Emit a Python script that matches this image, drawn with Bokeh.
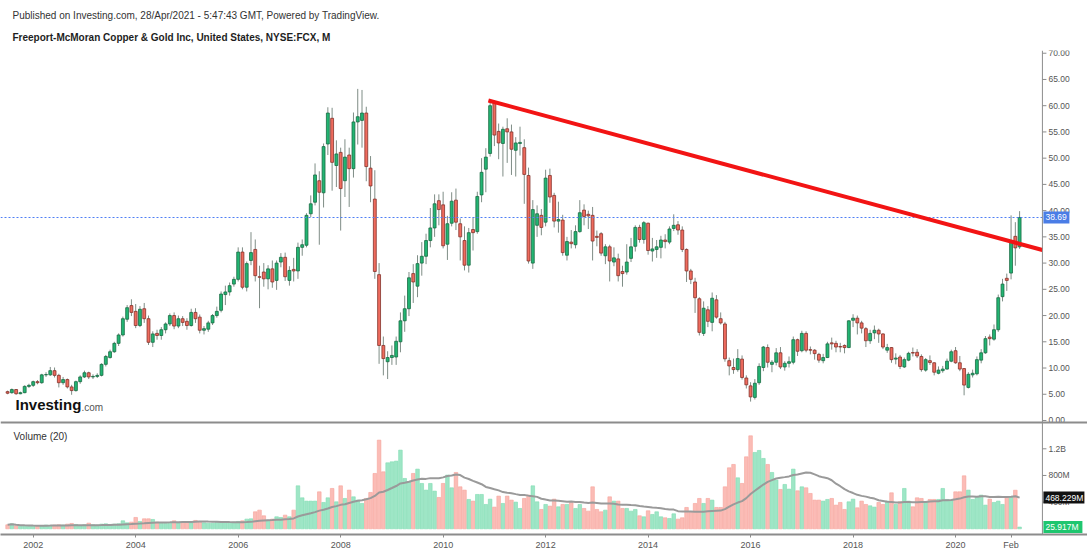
import pandas as pd
from bokeh.plotting import figure
from bokeh.models import Range1d, FixedTicker, Span, Label, Title, ColumnDataSource
from bokeh.core.properties import value
from bokeh.embed import file_html
from bokeh.resources import INLINE

# ---------------- data (monthly, FCX, from Jul 2001) ----------------
first_month = "2001-07"

opens = [
    5.5, 5.3, 5.9, 5.1, 5.3, 6.5,
    6.7, 7.4, 7.2, 8.7, 8.7, 9.5, 8.6, 7.2, 7.8, 6.4, 5.7, 7.4,
    8.3, 9.1, 8.3, 8.4, 8.6, 10.7, 12.0, 13.1, 14.7, 16.3, 19.3, 21.9,
    20.8, 18.1, 21.3, 19.4, 14.9, 16.6, 16.2, 17.3, 18.4, 20.0, 18.0, 19.4,
    18.9, 18.1, 20.6, 19.7, 17.2, 17.4, 18.6, 20.0, 21.0, 24.0, 24.5, 26.0,
    26.9, 32.1, 25.4, 30.5, 32.6, 27.4, 28.3, 27.0, 28.9, 26.7, 30.2, 31.1,
    26.7, 28.8, 28.5, 33.0, 33.4, 39.4, 41.6, 45.7, 43.4, 52.7, 57.6, 48.6,
    51.1, 45.7, 50.6, 48.0, 56.9, 57.2, 58.6, 48.1, 42.2, 27.8, 14.3, 11.2,
    12.0, 12.1, 15.0, 19.0, 21.3, 28.0, 25.6, 30.0, 31.3, 34.3, 36.7, 41.9,
    41.1, 33.6, 37.6, 42.0, 37.5, 34.3, 29.6, 36.4, 36.0, 43.0, 47.9, 50.9,
    60.7, 55.1, 52.8, 55.6, 55.0, 51.5, 52.8, 52.0, 46.7, 30.0, 37.2, 39.1,
    37.8, 46.7, 42.9, 38.0, 38.2, 31.5, 34.0, 33.5, 36.0, 40.1, 39.3, 39.1,
    35.1, 35.6, 31.4, 33.1, 30.2, 30.8, 28.4, 28.3, 30.9, 33.2, 36.8, 34.5,
    37.6, 32.3, 32.6, 33.0, 34.4, 34.0, 36.6, 37.3, 36.3, 32.6, 28.5, 26.4,
    23.2, 16.6, 21.1, 18.7, 23.0, 19.4, 18.4, 11.4, 10.1, 9.7, 11.7, 8.1,
    6.6, 4.4, 7.2, 10.1, 13.9, 10.7, 11.1, 12.9, 10.2, 10.9, 11.1, 15.4,
    13.3, 16.6, 13.5, 13.4, 12.6, 11.4, 12.0, 14.8, 14.7, 14.1, 14.3, 13.9,
    19.1, 19.5, 18.6, 17.5, 15.2, 16.7, 17.2, 16.5, 13.4, 13.9, 11.7, 12.1,
    10.2, 11.5, 12.95, 13.0, 12.2, 9.6, 11.4, 11.0, 9.0, 9.5, 9.8, 11.3,
    13.3, 11.0, 9.9, 6.3, 8.7, 8.9, 11.5, 12.9, 15.9, 15.5, 17.3, 23.6,
    27.1, 28.1, 35.1, 33.1,
]
highs = [
    5.7, 6.1, 6.0, 5.5, 6.7, 7.0,
    7.6, 7.7, 8.9, 9.2, 10.2, 10.1, 8.9, 8.3, 8.0, 6.8, 7.6, 8.6,
    9.5, 9.3, 8.8, 9.0, 10.9, 12.5, 13.5, 15.0, 16.6, 19.8, 22.0, 23.1,
    22.2, 21.8, 22.4, 20.0, 17.0, 17.3, 17.8, 18.7, 20.4, 20.6, 20.0, 19.9,
    19.5, 21.3, 21.4, 20.2, 18.0, 19.0, 20.3, 21.7, 24.6, 25.7, 26.3, 27.4,
    33.0, 33.0, 30.3, 35.9, 34.5, 29.5, 30.0, 29.6, 30.5, 30.5, 31.9, 32.0,
    29.4, 31.0, 33.9, 34.5, 39.5, 42.9, 49.0, 47.5, 52.8, 59.7, 59.6, 53.4,
    52.0, 53.6, 52.0, 58.7, 63.2, 63.0, 59.8, 50.4, 47.7, 30.0, 16.0, 13.2,
    14.3, 16.0, 20.6, 23.8, 28.3, 29.8, 31.5, 34.0, 35.6, 40.5, 43.1, 43.1,
    43.6, 39.0, 43.5, 44.2, 38.5, 37.0, 36.7, 38.7, 43.6, 50.0, 51.9, 60.9,
    61.0, 56.6, 56.0, 57.6, 56.4, 54.0, 56.0, 53.6, 48.2, 42.0, 41.0, 40.3,
    47.8, 48.0, 43.4, 41.7, 39.2, 35.0, 36.3, 37.2, 42.0, 41.2, 40.0, 40.7,
    36.2, 35.9, 33.6, 33.5, 33.0, 31.8, 29.5, 33.6, 34.8, 37.2, 37.3, 38.0,
    37.7, 34.8, 34.4, 35.2, 35.5, 37.0, 39.3, 38.0, 37.0, 32.8, 28.9, 27.2,
    23.5, 22.7, 21.8, 24.4, 23.9, 20.6, 18.8, 12.0, 11.8, 13.6, 12.4, 8.6,
    7.3, 7.9, 10.9, 14.2, 14.5, 11.5, 13.8, 14.0, 11.3, 12.2, 16.0, 15.6,
    17.1, 17.0, 14.1, 13.6, 12.9, 12.7, 15.0, 15.8, 15.2, 14.8, 14.5, 19.1,
    20.25, 20.0, 19.0, 17.8, 17.3, 18.1, 17.5, 16.6, 14.6, 14.0, 12.8, 12.5,
    12.0, 13.1, 13.9, 13.6, 12.6, 11.9, 12.4, 11.1, 10.3, 10.4, 11.8, 13.5,
    14.0, 12.3, 10.0, 9.2, 9.7, 12.2, 13.6, 16.1, 16.4, 18.3, 24.0, 27.0,
    28.0, 39.1, 37.8, 39.9,
]
lows = [
    5.0, 5.1, 4.9, 5.0, 5.2, 6.2,
    6.4, 6.9, 7.0, 8.3, 8.5, 8.2, 6.3, 6.8, 6.1, 4.9, 5.5, 7.0,
    8.1, 7.9, 7.9, 8.1, 8.4, 10.3, 11.8, 12.9, 14.2, 16.0, 18.8, 19.9,
    17.6, 17.8, 18.6, 14.4, 14.0, 15.4, 15.4, 16.6, 18.0, 17.4, 17.6, 18.0,
    17.3, 17.9, 18.6, 16.6, 16.4, 16.9, 18.2, 19.6, 20.6, 22.0, 23.8, 25.5,
    26.5, 25.0, 24.6, 29.6, 26.5, 21.4, 25.5, 25.0, 25.3, 24.9, 29.2, 26.6,
    25.7, 26.5, 27.0, 31.4, 33.0, 38.8, 41.0, 33.5, 40.6, 50.6, 43.8, 44.5,
    36.2, 42.6, 40.7, 46.3, 52.6, 52.0, 45.6, 41.6, 27.0, 10.8, 8.6, 7.9,
    10.6, 10.6, 13.0, 16.9, 19.9, 22.4, 23.5, 27.6, 29.8, 33.0, 35.0, 37.2,
    32.8, 30.6, 37.0, 36.3, 30.5, 28.6, 28.2, 32.4, 35.6, 41.6, 43.5, 50.3,
    52.3, 49.8, 46.5, 49.1, 46.8, 46.5, 50.5, 41.3, 29.9, 28.9, 35.0, 35.3,
    37.0, 41.5, 36.8, 35.8, 31.4, 30.5, 32.8, 32.8, 35.8, 37.2, 36.5, 30.5,
    33.2, 31.4, 29.8, 26.5, 29.4, 26.5, 25.5, 27.8, 30.2, 32.2, 33.9, 33.7,
    31.6, 30.3, 31.0, 30.9, 32.8, 33.6, 36.1, 35.4, 32.1, 26.4, 26.0, 20.5,
    16.2, 16.1, 17.8, 17.0, 19.4, 18.3, 11.2, 8.6, 8.9, 9.3, 7.8, 6.1,
    3.6, 4.0, 6.8, 9.4, 10.1, 9.2, 10.5, 9.8, 9.5, 10.1, 10.7, 12.3,
    13.0, 13.0, 12.6, 11.6, 11.0, 10.9, 11.9, 13.5, 13.0, 13.0, 12.8, 13.8,
    17.8, 16.4, 16.6, 14.0, 14.6, 15.5, 14.8, 13.6, 12.9, 11.0, 10.7, 9.8,
    10.0, 11.3, 12.2, 11.9, 9.3, 9.3, 10.6, 8.6, 8.8, 9.1, 9.7, 11.1,
    10.8, 9.4, 4.8, 6.1, 8.2, 8.6, 10.9, 12.7, 14.3, 15.2, 16.9, 22.7,
    24.7, 26.9, 29.5, 32.7,
]
closes = [
    5.2, 5.9, 5.1, 5.3, 6.5, 6.7,
    7.4, 7.2, 8.7, 8.75, 9.5, 8.6, 7.2, 7.8, 6.4, 5.7, 7.4, 8.3,
    9.1, 8.3, 8.4, 8.6, 10.7, 12.2, 13.1, 14.7, 16.3, 19.4, 21.5, 20.6,
    18.1, 21.2, 19.4, 14.9, 16.5, 16.2, 17.3, 18.4, 20.0, 18.0, 19.4, 18.7,
    18.1, 20.6, 19.4, 17.2, 17.5, 18.6, 20.0, 20.8, 24.1, 24.5, 25.7, 26.9,
    32.1, 25.4, 29.9, 32.0, 27.6, 27.3, 27.0, 28.9, 26.4, 30.0, 31.1, 27.4,
    28.6, 28.5, 33.0, 33.5, 39.1, 41.3, 46.8, 43.5, 52.2, 58.6, 49.2, 50.8,
    44.2, 50.2, 48.0, 56.9, 57.9, 58.6, 48.4, 44.7, 28.4, 14.3, 11.8, 12.0,
    12.4, 15.1, 19.0, 21.3, 27.2, 26.4, 29.9, 31.3, 34.3, 36.7, 41.3, 40.2,
    33.3, 37.5, 41.8, 37.8, 35.0, 29.6, 35.8, 35.8, 42.7, 47.3, 50.2, 60.0,
    54.4, 52.9, 55.5, 55.0, 51.7, 52.9, 53.0, 46.9, 30.4, 40.2, 39.4, 36.8,
    46.2, 42.6, 38.0, 38.3, 32.0, 34.1, 33.7, 36.0, 39.6, 38.9, 39.0, 34.2,
    34.9, 31.9, 33.1, 30.4, 31.0, 27.6, 28.0, 30.2, 33.1, 36.8, 34.5, 37.7,
    32.4, 32.7, 33.1, 34.4, 34.1, 36.5, 37.2, 36.3, 32.6, 28.5, 26.9, 23.4,
    16.8, 21.4, 18.9, 23.3, 19.7, 18.6, 11.75, 10.4, 9.7, 11.8, 8.2, 6.8,
    4.5, 7.1, 10.3, 14.0, 11.1, 11.1, 12.9, 10.2, 10.9, 11.2, 15.4, 13.2,
    16.6, 13.4, 13.4, 12.75, 11.5, 12.0, 14.6, 14.6, 14.0, 14.0, 13.9, 19.0,
    19.5, 18.6, 17.6, 15.2, 16.6, 17.2, 16.5, 14.0, 13.9, 11.6, 11.9, 10.3,
    11.6, 12.8, 12.85, 12.3, 9.7, 11.6, 11.05, 9.2, 9.6, 9.8, 11.3, 13.1,
    11.0, 9.8, 6.75, 8.8, 9.0, 11.6, 12.9, 15.6, 15.6, 17.3, 23.4, 26.0,
    26.7, 34.3, 32.9, 38.69,
]
volumes_m = [
    60, 75, 45, 40, 40, 35,
    40, 40, 45, 55, 50, 55, 60, 55, 70, 80, 65, 45,
    60, 85, 60, 55, 70, 75, 65, 70, 75, 120, 90, 100,
    170, 110, 150, 150, 140, 100, 85, 80, 85, 120, 90, 85,
    100, 90, 125, 110, 90, 85, 85, 95, 100, 100, 95, 100,
    110, 120, 145, 150, 255, 280, 195, 130, 145, 180, 170, 205,
    180, 280, 645, 465, 415, 415, 415, 555, 395, 465, 605, 405,
    645, 455, 580, 480, 430, 380, 455, 545, 830, 1330, 855, 990,
    1005, 1015, 1180, 755, 705, 830, 895, 680, 580, 680, 565, 470,
    680, 805, 615, 845, 630, 580, 440, 415, 515, 515, 365, 445,
    325, 490, 380, 490, 430, 400, 305, 455, 505, 645, 405, 290,
    365, 340, 445, 330, 365, 365, 395, 305, 365, 305, 265, 630,
    290, 255, 280, 480, 415, 415, 305, 305, 265, 290, 195, 180,
    270, 215, 255, 180, 165, 155, 225, 145, 165, 320, 245, 380,
    455, 380, 455, 430, 320, 320, 630, 915, 965, 765, 680, 1080,
    1395, 1145, 1175, 1055, 965, 845, 730, 590, 665, 595, 895, 570,
    630, 615, 530, 430, 430, 415, 440, 455, 355, 395, 290, 405,
    445, 315, 415, 365, 345, 325, 395, 365, 415, 540, 365, 405,
    605, 415, 330, 465, 455, 405, 440, 440, 440, 605, 440, 430,
    555, 555, 795, 580, 440, 480, 505, 355, 445, 395, 415, 365,
    480, 480, 578.66, 25.917,
]

price_ticks = [0, 5, 10, 15, 20, 25, 30, 35, 40, 45, 50, 55, 60, 65, 70]
price_tick_labels = ["0.00", "5.00", "10.00", "15.00", "20.00", "25.00", "30.00",
                     "35.00", "40.00", "45.00", "50.00", "55.00", "60.00", "65.00", "70.00"]
volume_ticks_m = [400, 800, 1200]
volume_tick_labels = ["400M", "800M", "1.2B"]
x_tick_months = ["2002-01", "2004-01", "2006-01", "2008-01", "2010-01",
                 "2012-01", "2014-01", "2016-01", "2018-01", "2020-01", "2021-02"]
x_tick_labels = ["2002", "2004", "2006", "2008", "2010",
                 "2012", "2014", "2016", "2018", "2020", "Feb"]

# user-drawn trend line (month index, price)
trend_idx = [112.6, 242.34]
trend_price = [61.0, 32.5]

published_text = "Published on Investing.com, 28/Apr/2021 - 5:47:43 GMT, Powered by TradingView."
symbol_text = "Freeport-McMoran Copper & Gold Inc, United States, NYSE:FCX, M"
volume_title = "Volume (20)"

# ---------------- styling / layout ----------------
FONT = "Liberation Sans"
UP_FILL, UP_LINE = "#22b573", "#196b43"
DN_FILL, DN_LINE = "#ef6b5e", "#84322b"
WICK = "#7f8d86"
VOL_UP, VOL_UP_LINE = "#9ee6c6", "#7fdcb2"
VOL_DN, VOL_DN_LINE = "#fbbcb6", "#f6a39b"
GRID_GREY = "#8c8c8c"
LABEL_GREY = "#555555"
LAST_BLUE = "#4a7de6"
DOT_BLUE = "#4f7ff5"
MA_BLACK = "#111111"
VOL_GREEN = "#1fc66f"

W, H = 1087, 555
FRAME_TOP, FRAME_BOTTOM = 50, 534
FRAME_H = FRAME_BOTTOM - FRAME_TOP
X_START, X_END = -1.66, 252.9          # frame spans the full canvas width
SCALE_X = 242.34                       # where the price scale sits (month units)
P_BOT, P_TOP = -21.73, 70.52
V_BOT, V_TOP = -85.5, 7174.5
SEPARATOR_PRICE = -0.38

PX_X = W / (X_END - X_START)           # pixels per month
PX_P = FRAME_H / (P_TOP - P_BOT)       # pixels per price unit
PX_V = FRAME_H / (V_TOP - V_BOT)       # pixels per million shares

def dx(px):
    return px / PX_X

n = len(closes)
months = pd.period_range(first_month, periods=n, freq="M")
xs = list(range(n))
up = [c >= o for o, c in zip(opens, closes)]
vol_ma = pd.Series(volumes_m).rolling(20, min_periods=1).mean().tolist()

src = ColumnDataSource(dict(
    x=xs, high=highs, low=lows,
    top=[max(o, c) for o, c in zip(opens, closes)],
    bottom=[min(o, c) for o, c in zip(opens, closes)],
    fill=[UP_FILL if u else DN_FILL for u in up],
    line=[UP_LINE if u else DN_LINE for u in up],
    vol=volumes_m,
    vfill=[VOL_UP if u else VOL_DN for u in up],
    vline=[VOL_UP_LINE if u else VOL_DN_LINE for u in up],
    vol_ma=vol_ma,
))

p = figure(width=W, height=H, output_backend="svg", toolbar_location=None,
           x_range=Range1d(X_START, X_END), y_range=Range1d(P_BOT, P_TOP),
           y_axis_location=None,
           min_border_left=0, min_border_right=0, min_border_top=FRAME_TOP,
           min_border_bottom=H - FRAME_BOTTOM,
           outline_line_color=None, background_fill_color="white", border_fill_color="white",
           title=Title(text=published_text, align="left", offset=12, standoff=3,
                       text_font=FONT, text_font_size="10px", text_font_style="normal",
                       text_color="#333333"))
p.add_layout(Title(text=symbol_text, align="left", offset=12, standoff=15,
                   text_font=FONT, text_font_size="10px", text_font_style="bold",
                   text_color="#1e1e1e"), "above")
p.extra_y_ranges = {"vol": Range1d(V_BOT, V_TOP)}
p.grid.visible = False

# volume pane
p.vbar(x="x", top="vol", bottom=0, width=0.84, fill_color="vfill", line_color="vline",
       line_width=0.6, y_range_name="vol", source=src)
p.line(x="x", y="vol_ma", line_color="#9a9a9a", line_width=2, y_range_name="vol", source=src)

# candles
p.segment(x0="x", y0="low", x1="x", y1="high", line_color=WICK, line_width=1, source=src)
p.vbar(x="x", top="top", bottom="bottom", width=0.68, fill_color="fill", line_color="line",
       line_width=0.8, source=src)

# last-price dotted line (up to the price scale)
p.segment(x0=[X_START], x1=[SCALE_X], y0=[closes[-1]], y1=[closes[-1]],
          line_color=DOT_BLUE, line_dash="2 2", line_width=1.2)

# trend line
p.line(trend_idx, trend_price, line_color="#f21414", line_width=4)

# pane separator
p.add_layout(Span(location=SEPARATOR_PRICE, dimension="width", line_color=GRID_GREY, line_width=2))

# ---- right-hand price / volume scale ----
p.segment(x0=[SCALE_X], x1=[SCALE_X], y0=[P_BOT], y1=[P_TOP], line_color=GRID_GREY, line_width=1)
p.segment(x0=[SCALE_X] * len(price_ticks), x1=[SCALE_X + dx(4)] * len(price_ticks),
          y0=price_ticks, y1=price_ticks, line_color=GRID_GREY, line_width=1)
p.text(x=[SCALE_X + dx(6)] * len(price_ticks), y=price_ticks, text=price_tick_labels,
       text_font=value(FONT), text_font_size="8.5px", text_color=LABEL_GREY,
       text_baseline="middle", text_align="left")
p.segment(x0=[SCALE_X] * len(volume_ticks_m), x1=[SCALE_X + dx(4)] * len(volume_ticks_m),
          y0=volume_ticks_m, y1=volume_ticks_m, line_color=GRID_GREY, line_width=1,
          y_range_name="vol")
p.text(x=[SCALE_X + dx(6)] * len(volume_ticks_m), y=volume_ticks_m, text=volume_tick_labels,
       text_font=value(FONT), text_font_size="8.5px", text_color=LABEL_GREY,
       text_baseline="middle", text_align="left", y_range_name="vol")

def add_tag(val, text, color, box_w, range_name="default"):
    half = 6 / (PX_P if range_name == "default" else PX_V)
    p.quad(left=[SCALE_X + dx(1)], right=[SCALE_X + dx(1 + box_w)],
           top=[val + half], bottom=[val - half], fill_color=color, line_color=None,
           y_range_name=range_name)
    p.text(x=[SCALE_X + dx(3)], y=[val], text=[text], text_font=value(FONT),
           text_font_size="8.5px", text_color="white", text_baseline="middle",
           text_align="left", y_range_name=range_name)

add_tag(closes[-1], f"{closes[-1]:.2f}", LAST_BLUE, 26)
add_tag(vol_ma[-1], f"{vol_ma[-1]:.3f}M", MA_BLACK, 41, "vol")
add_tag(volumes_m[-1], f"{volumes_m[-1]:.3f}M", VOL_GREEN, 39, "vol")

# ---- time axis ----
x_tick_idx = [months.get_loc(pd.Period(m, freq="M")) for m in x_tick_months]
xax = p.xaxis[0]
xax.ticker = FixedTicker(ticks=x_tick_idx)
xax.major_label_overrides = {t: l for t, l in zip(x_tick_idx, x_tick_labels)}
xax.axis_line_color = GRID_GREY
xax.axis_line_width = 2
xax.major_tick_line_color = GRID_GREY
xax.major_tick_out = 3
xax.major_tick_in = 0
xax.minor_tick_line_color = None
xax.major_label_standoff = 2
xax.major_label_text_font = FONT
xax.major_label_text_font_size = "9px"
xax.major_label_text_color = LABEL_GREY

# pane captions / logo
p.add_layout(Label(x=13, y=93, x_units="screen", y_units="screen", text=volume_title,
                   text_font=FONT, text_font_size="10px", text_color="#333333"))
p.add_layout(Label(x=15, y=122, x_units="screen", y_units="screen", text="Investing",
                   text_font=FONT, text_font_size="15px", text_font_style="bold",
                   text_color="#111111"))
p.add_layout(Label(x=81, y=122, x_units="screen", y_units="screen", text=".com",
                   text_font=FONT, text_font_size="10px", text_color="#555555"))

open("out.html", "w").write(file_html(p, INLINE))
